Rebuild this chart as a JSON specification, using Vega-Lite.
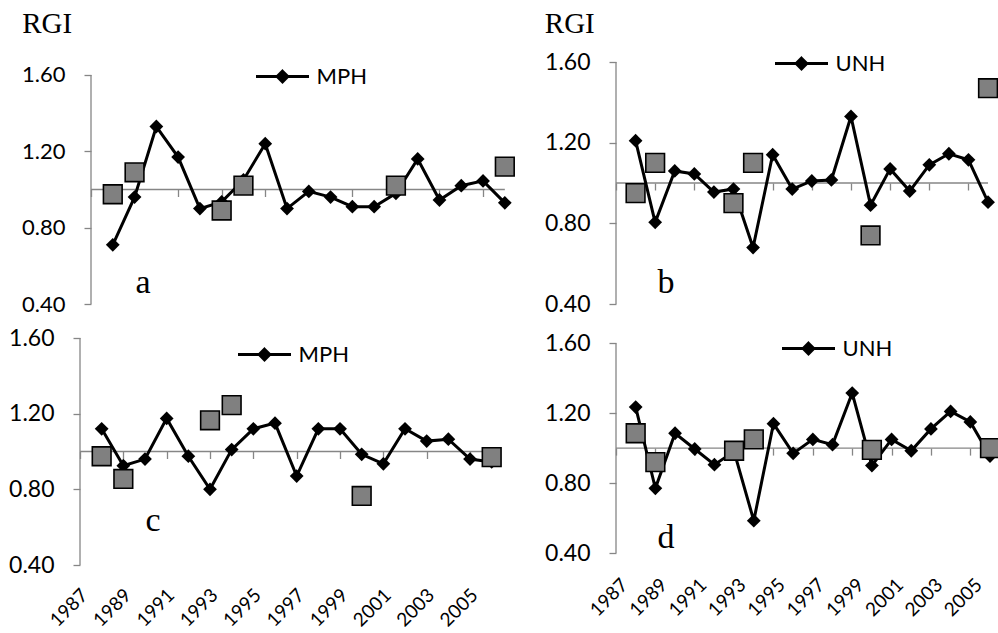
{
  "$schema": "https://vega.github.io/schema/vega-lite/v6.json",
  "background": "white",
  "padding": {"left": 8, "top": 9, "right": 0, "bottom": 0},
  "datasets": {
    "rgi": [
      {"panel": "a", "series": "MPH", "year": 1988, "rgi": 0.71},
      {"panel": "a", "series": "MPH", "year": 1989, "rgi": 0.96},
      {"panel": "a", "series": "MPH", "year": 1990, "rgi": 1.33},
      {"panel": "a", "series": "MPH", "year": 1991, "rgi": 1.17},
      {"panel": "a", "series": "MPH", "year": 1992, "rgi": 0.90},
      {"panel": "a", "series": "MPH", "year": 1993, "rgi": 0.935},
      {"panel": "a", "series": "MPH", "year": 1994, "rgi": 1.05},
      {"panel": "a", "series": "MPH", "year": 1995, "rgi": 1.24},
      {"panel": "a", "series": "MPH", "year": 1996, "rgi": 0.90},
      {"panel": "a", "series": "MPH", "year": 1997, "rgi": 0.99},
      {"panel": "a", "series": "MPH", "year": 1998, "rgi": 0.96},
      {"panel": "a", "series": "MPH", "year": 1999, "rgi": 0.91},
      {"panel": "a", "series": "MPH", "year": 2000, "rgi": 0.91},
      {"panel": "a", "series": "MPH", "year": 2001, "rgi": 0.98},
      {"panel": "a", "series": "MPH", "year": 2002, "rgi": 1.16},
      {"panel": "a", "series": "MPH", "year": 2003, "rgi": 0.945},
      {"panel": "a", "series": "MPH", "year": 2004, "rgi": 1.02},
      {"panel": "a", "series": "MPH", "year": 2005, "rgi": 1.045},
      {"panel": "a", "series": "MPH", "year": 2006, "rgi": 0.93},
      {"panel": "b", "series": "UNH", "year": 1988, "rgi": 1.21},
      {"panel": "b", "series": "UNH", "year": 1989, "rgi": 0.805},
      {"panel": "b", "series": "UNH", "year": 1990, "rgi": 1.06},
      {"panel": "b", "series": "UNH", "year": 1991, "rgi": 1.045},
      {"panel": "b", "series": "UNH", "year": 1992, "rgi": 0.955},
      {"panel": "b", "series": "UNH", "year": 1993, "rgi": 0.97},
      {"panel": "b", "series": "UNH", "year": 1994, "rgi": 0.68},
      {"panel": "b", "series": "UNH", "year": 1995, "rgi": 1.14},
      {"panel": "b", "series": "UNH", "year": 1996, "rgi": 0.97},
      {"panel": "b", "series": "UNH", "year": 1997, "rgi": 1.01},
      {"panel": "b", "series": "UNH", "year": 1998, "rgi": 1.015},
      {"panel": "b", "series": "UNH", "year": 1999, "rgi": 1.33},
      {"panel": "b", "series": "UNH", "year": 2000, "rgi": 0.89},
      {"panel": "b", "series": "UNH", "year": 2001, "rgi": 1.07},
      {"panel": "b", "series": "UNH", "year": 2002, "rgi": 0.96},
      {"panel": "b", "series": "UNH", "year": 2003, "rgi": 1.09},
      {"panel": "b", "series": "UNH", "year": 2004, "rgi": 1.145},
      {"panel": "b", "series": "UNH", "year": 2005, "rgi": 1.115},
      {"panel": "b", "series": "UNH", "year": 2006, "rgi": 0.905},
      {"panel": "c", "series": "MPH", "year": 1988, "rgi": 1.12},
      {"panel": "c", "series": "MPH", "year": 1989, "rgi": 0.925},
      {"panel": "c", "series": "MPH", "year": 1990, "rgi": 0.96},
      {"panel": "c", "series": "MPH", "year": 1991, "rgi": 1.175},
      {"panel": "c", "series": "MPH", "year": 1992, "rgi": 0.975},
      {"panel": "c", "series": "MPH", "year": 1993, "rgi": 0.80},
      {"panel": "c", "series": "MPH", "year": 1994, "rgi": 1.01},
      {"panel": "c", "series": "MPH", "year": 1995, "rgi": 1.12},
      {"panel": "c", "series": "MPH", "year": 1996, "rgi": 1.15},
      {"panel": "c", "series": "MPH", "year": 1997, "rgi": 0.87},
      {"panel": "c", "series": "MPH", "year": 1998, "rgi": 1.12},
      {"panel": "c", "series": "MPH", "year": 1999, "rgi": 1.12},
      {"panel": "c", "series": "MPH", "year": 2000, "rgi": 0.985},
      {"panel": "c", "series": "MPH", "year": 2001, "rgi": 0.935},
      {"panel": "c", "series": "MPH", "year": 2002, "rgi": 1.12},
      {"panel": "c", "series": "MPH", "year": 2003, "rgi": 1.055},
      {"panel": "c", "series": "MPH", "year": 2004, "rgi": 1.065},
      {"panel": "c", "series": "MPH", "year": 2005, "rgi": 0.96},
      {"panel": "c", "series": "MPH", "year": 2006, "rgi": 0.945},
      {"panel": "d", "series": "UNH", "year": 1988, "rgi": 1.235},
      {"panel": "d", "series": "UNH", "year": 1989, "rgi": 0.77},
      {"panel": "d", "series": "UNH", "year": 1990, "rgi": 1.085},
      {"panel": "d", "series": "UNH", "year": 1991, "rgi": 0.995},
      {"panel": "d", "series": "UNH", "year": 1992, "rgi": 0.905},
      {"panel": "d", "series": "UNH", "year": 1993, "rgi": 0.98},
      {"panel": "d", "series": "UNH", "year": 1994, "rgi": 0.585},
      {"panel": "d", "series": "UNH", "year": 1995, "rgi": 1.14},
      {"panel": "d", "series": "UNH", "year": 1996, "rgi": 0.97},
      {"panel": "d", "series": "UNH", "year": 1997, "rgi": 1.05},
      {"panel": "d", "series": "UNH", "year": 1998, "rgi": 1.02},
      {"panel": "d", "series": "UNH", "year": 1999, "rgi": 1.315},
      {"panel": "d", "series": "UNH", "year": 2000, "rgi": 0.90},
      {"panel": "d", "series": "UNH", "year": 2001, "rgi": 1.05},
      {"panel": "d", "series": "UNH", "year": 2002, "rgi": 0.985},
      {"panel": "d", "series": "UNH", "year": 2003, "rgi": 1.11},
      {"panel": "d", "series": "UNH", "year": 2004, "rgi": 1.21},
      {"panel": "d", "series": "UNH", "year": 2005, "rgi": 1.15},
      {"panel": "d", "series": "UNH", "year": 2006, "rgi": 0.955}
    ],
    "obs": [
      {"panel": "a", "year": 1988, "rgi": 0.975},
      {"panel": "a", "year": 1989, "rgi": 1.09},
      {"panel": "a", "year": 1993, "rgi": 0.89},
      {"panel": "a", "year": 1994, "rgi": 1.02},
      {"panel": "a", "year": 2001, "rgi": 1.02},
      {"panel": "a", "year": 2006, "rgi": 1.12},
      {"panel": "b", "year": 1988, "rgi": 0.95},
      {"panel": "b", "year": 1989, "rgi": 1.10},
      {"panel": "b", "year": 1993, "rgi": 0.90},
      {"panel": "b", "year": 1994, "rgi": 1.10},
      {"panel": "b", "year": 2000, "rgi": 0.74},
      {"panel": "b", "year": 2006, "rgi": 1.47},
      {"panel": "c", "year": 1988, "rgi": 0.975},
      {"panel": "c", "year": 1989, "rgi": 0.855},
      {"panel": "c", "year": 1993, "rgi": 1.165},
      {"panel": "c", "year": 1994, "rgi": 1.245},
      {"panel": "c", "year": 2000, "rgi": 0.765},
      {"panel": "c", "year": 2006, "rgi": 0.97},
      {"panel": "d", "year": 1988, "rgi": 1.085},
      {"panel": "d", "year": 1989, "rgi": 0.92},
      {"panel": "d", "year": 1993, "rgi": 0.985},
      {"panel": "d", "year": 1994, "rgi": 1.05},
      {"panel": "d", "year": 2000, "rgi": 0.99},
      {"panel": "d", "year": 2006, "rgi": 1.0}
    ]
  },
  "columns": 2,
  "spacing": {"row": 34, "column": 110},
  "bounds": "flush",
  "resolve": {
    "scale": {"x": "independent", "y": "independent", "color": "independent"},
    "legend": {"color": "independent"}
  },
  "concat": [
    {
      "width": 426, "height": 242,
      "layer": [
        {"data": {"values": [{}]}, "mark": {"type": "rule", "color": "#868686", "strokeWidth": 1.3},
         "encoding": {"x": {"datum": 1987, "type": "quantitative"}, "y": {"datum": 0.4, "type": "quantitative"}, "y2": {"datum": 1.6}}},
        {"data": {"values": [{}]}, "mark": {"type": "rule", "color": "#868686", "strokeWidth": 1.3},
         "encoding": {"x": {"datum": 1987, "type": "quantitative"}, "x2": {"datum": 2006}, "y": {"datum": 1, "type": "quantitative"}}},
        {"data": {"name": "rgi"}, "transform": [{"filter": "datum.panel === 'a'"}],
         "mark": {"type": "line", "strokeWidth": 3, "point": {"shape": "diamond", "filled": true, "size": 190, "opacity": 1}},
         "encoding": {
           "x": {"field": "year", "type": "quantitative", "scale": {"domain": [1986.495, 2006.054], "nice": false, "zero": false},
                 "axis": {"orient": "bottom", "offset": -114.5, "domain": false, "grid": false, "ticks": true, "tickColor": "#868686", "tickSize": 7, "tickWidth": 1.3, "labels": false,
                          "values": [1987, 1989, 1991, 1993, 1995, 1997, 1999, 2001, 2003, 2005],
                          "title": "a", "titleX": 62.5, "titleY": 102.5, "titleFont": "Liberation Serif", "titleFontSize": 34, "titleFontWeight": "normal", "titleColor": "#000000", "titleAlign": "center", "titleBaseline": "alphabetic", "titleAngle": 0}},
           "y": {"field": "rgi", "type": "quantitative", "scale": {"domain": [0.4, 1.668], "nice": false, "zero": false},
                 "axis": {"orient": "left", "offset": -11, "domain": false, "grid": false, "ticks": true, "tickColor": "#868686", "tickSize": 7, "tickWidth": 1.3,
                          "values": [0.4, 0.8, 1.2, 1.6], "format": ".2f", "labelFont": "Lato", "labelFontSize": 22, "labelColor": "#000000", "labelPadding": 19, "labelFlush": false, "labelOverlap": false,
                          "title": "RGI", "titleX": -69.3, "titleY": -29.7, "titleAngle": 0, "titleAlign": "left", "titleBaseline": "alphabetic", "titleFont": "Liberation Serif", "titleFontSize": 29, "titleFontWeight": "normal", "titleColor": "#000000"}},
           "color": {"field": "series", "type": "nominal", "scale": {"range": ["#000000"]},
                     "legend": {"orient": "none", "legendX": 174.5, "legendY": -13.5, "title": null, "padding": 0, "labelFont": "Lato", "labelFontSize": 22, "labelColor": "#000000", "labelOffset": 6,
                                "symbolType": "M-1,0L1,0M0,-0.2L0.2,0L0,0.2L-0.2,0Z", "symbolSize": 2809, "symbolStrokeWidth": 3, "symbolStrokeColor": "#000000", "symbolFillColor": "#000000",
                                "encode": {"symbols": {"update": {"fill": {"value": "#000000"}, "stroke": {"value": "#000000"}, "strokeWidth": {"value": 3}, "opacity": {"value": 1}}}}}}
         }},
        {"data": {"name": "obs"}, "transform": [{"filter": "datum.panel === 'a'"}],
         "mark": {"type": "point", "shape": "square", "filled": true, "fill": "#808080", "stroke": "#000000", "strokeWidth": 1.6, "size": 350, "opacity": 1},
         "encoding": {"x": {"field": "year", "type": "quantitative"}, "y": {"field": "rgi", "type": "quantitative"}}}
      ]
    },
    {
      "width": 374, "height": 242,
      "layer": [
        {"data": {"values": [{}]}, "mark": {"type": "rule", "color": "#868686", "strokeWidth": 1.3},
         "encoding": {"x": {"datum": 1987, "type": "quantitative"}, "y": {"datum": 0.4, "type": "quantitative"}, "y2": {"datum": 1.6}}},
        {"data": {"values": [{}]}, "mark": {"type": "rule", "color": "#868686", "strokeWidth": 1.3},
         "encoding": {"x": {"datum": 1987, "type": "quantitative"}, "x2": {"datum": 2006}, "y": {"datum": 1, "type": "quantitative"}}},
        {"data": {"name": "rgi"}, "transform": [{"filter": "datum.panel === 'b'"}],
         "mark": {"type": "line", "strokeWidth": 3, "point": {"shape": "diamond", "filled": true, "size": 190, "opacity": 1}},
         "encoding": {
           "x": {"field": "year", "type": "quantitative", "scale": {"domain": [1987, 2006.1], "nice": false, "zero": false},
                 "axis": {"orient": "bottom", "offset": -121, "domain": false, "grid": false, "ticks": true, "tickColor": "#868686", "tickSize": 7, "tickWidth": 1.3, "labels": false,
                          "values": [1987, 1989, 1991, 1993, 1995, 1997, 1999, 2001, 2003, 2005],
                          "title": "b", "titleX": 49.5, "titleY": 109, "titleFont": "Liberation Serif", "titleFontSize": 34, "titleFontWeight": "normal", "titleColor": "#000000", "titleAlign": "center", "titleBaseline": "alphabetic", "titleAngle": 0}},
           "y": {"field": "rgi", "type": "quantitative", "scale": {"domain": [0.4, 1.6], "nice": false, "zero": false},
                 "axis": {"orient": "left", "domain": false, "grid": false, "ticks": true, "tickColor": "#868686", "tickSize": 7, "tickWidth": 1.3,
                          "values": [0.4, 0.8, 1.2, 1.6], "format": ".2f", "labelFont": "Lato", "labelFontSize": 23, "labelColor": "#000000", "labelPadding": 19, "labelFlush": false, "labelOverlap": false,
                          "title": "RGI", "titleX": -71.7, "titleY": -29.7, "titleAngle": 0, "titleAlign": "left", "titleBaseline": "alphabetic", "titleFont": "Liberation Serif", "titleFontSize": 29, "titleFontWeight": "normal", "titleColor": "#000000"}},
           "color": {"field": "series", "type": "nominal", "scale": {"range": ["#000000"]},
                     "legend": {"orient": "none", "legendX": 157.5, "legendY": -26.5, "title": null, "padding": 0, "labelFont": "Lato", "labelFontSize": 22, "labelColor": "#000000", "labelOffset": 6,
                                "symbolType": "M-1,0L1,0M0,-0.2L0.2,0L0,0.2L-0.2,0Z", "symbolSize": 2809, "symbolStrokeWidth": 3, "symbolStrokeColor": "#000000", "symbolFillColor": "#000000",
                                "encode": {"symbols": {"update": {"fill": {"value": "#000000"}, "stroke": {"value": "#000000"}, "strokeWidth": {"value": 3}, "opacity": {"value": 1}}}}}}
         }},
        {"data": {"name": "obs"}, "transform": [{"filter": "datum.panel === 'b'"}],
         "mark": {"type": "point", "shape": "square", "filled": true, "fill": "#808080", "stroke": "#000000", "strokeWidth": 1.6, "size": 350, "opacity": 1},
         "encoding": {"x": {"field": "year", "type": "quantitative"}, "y": {"field": "rgi", "type": "quantitative"}}}
      ]
    },
    {
      "width": 426, "height": 227,
      "layer": [
        {"data": {"values": [{}]}, "mark": {"type": "rule", "color": "#868686", "strokeWidth": 1.3},
         "encoding": {"x": {"datum": 1987, "type": "quantitative"}, "y": {"datum": 0.4, "type": "quantitative"}, "y2": {"datum": 1.6}}},
        {"data": {"values": [{}]}, "mark": {"type": "rule", "color": "#868686", "strokeWidth": 1.3},
         "encoding": {"x": {"datum": 1987, "type": "quantitative"}, "x2": {"datum": 2006}, "y": {"datum": 1, "type": "quantitative"}}},
        {"data": {"name": "rgi"}, "transform": [{"filter": "datum.panel === 'c'"}],
         "mark": {"type": "line", "strokeWidth": 3, "point": {"shape": "diamond", "filled": true, "size": 190, "opacity": 1}},
         "encoding": {
           "x": {"field": "year", "type": "quantitative", "scale": {"domain": [1987, 2006.66], "nice": false, "zero": false},
                 "axis": {"orient": "bottom", "offset": -113.5, "domain": false, "grid": false, "ticks": true, "tickColor": "#868686", "tickSize": 7, "tickWidth": 1.3,
                          "values": [1987, 1989, 1991, 1993, 1995, 1997, 1999, 2001, 2003, 2005], "format": "d",
                          "labels": true, "labelAngle": -45, "labelAlign": "right", "labelBaseline": "middle", "labelPadding": 133.3, "labelOffset": 4.2, "labelFont": "Lato", "labelFontSize": 19, "labelColor": "#000000", "labelFlush": false, "labelOverlap": false, "labelBound": false,
                          "title": "c", "titleX": 72.5, "titleY": 78.5, "titleFont": "Liberation Serif", "titleFontSize": 34, "titleFontWeight": "normal", "titleColor": "#000000", "titleAlign": "center", "titleBaseline": "alphabetic", "titleAngle": 0}},
           "y": {"field": "rgi", "type": "quantitative", "scale": {"domain": [0.4, 1.6], "nice": false, "zero": false},
                 "axis": {"orient": "left", "domain": false, "grid": false, "ticks": true, "tickColor": "#868686", "tickSize": 7, "tickWidth": 1.3,
                          "values": [0.4, 0.8, 1.2, 1.6], "format": ".2f", "labelFont": "Lato", "labelFontSize": 23, "labelColor": "#000000", "labelPadding": 19, "labelFlush": false, "labelOverlap": false,
                          "title": null}},
           "color": {"field": "series", "type": "nominal", "scale": {"range": ["#000000"]},
                     "legend": {"orient": "none", "legendX": 156.5, "legendY": -11.5, "title": null, "padding": 0, "labelFont": "Lato", "labelFontSize": 22, "labelColor": "#000000", "labelOffset": 6,
                                "symbolType": "M-1,0L1,0M0,-0.2L0.2,0L0,0.2L-0.2,0Z", "symbolSize": 2809, "symbolStrokeWidth": 3, "symbolStrokeColor": "#000000", "symbolFillColor": "#000000",
                                "encode": {"symbols": {"update": {"fill": {"value": "#000000"}, "stroke": {"value": "#000000"}, "strokeWidth": {"value": 3}, "opacity": {"value": 1}}}}}}
         }},
        {"data": {"name": "obs"}, "transform": [{"filter": "datum.panel === 'c'"}],
         "mark": {"type": "point", "shape": "square", "filled": true, "fill": "#808080", "stroke": "#000000", "strokeWidth": 1.6, "size": 350, "opacity": 1},
         "encoding": {"x": {"field": "year", "type": "quantitative"}, "y": {"field": "rgi", "type": "quantitative"}}}
      ]
    },
    {
      "width": 374, "height": 215,
      "layer": [
        {"data": {"values": [{}]}, "mark": {"type": "rule", "color": "#868686", "strokeWidth": 1.3},
         "encoding": {"x": {"datum": 1987, "type": "quantitative"}, "y": {"datum": 0.4, "type": "quantitative"}, "y2": {"datum": 1.6}}},
        {"data": {"values": [{}]}, "mark": {"type": "rule", "color": "#868686", "strokeWidth": 1.3},
         "encoding": {"x": {"datum": 1987, "type": "quantitative"}, "x2": {"datum": 2006}, "y": {"datum": 1, "type": "quantitative"}}},
        {"data": {"name": "rgi"}, "transform": [{"filter": "datum.panel === 'd'"}],
         "mark": {"type": "line", "strokeWidth": 3, "point": {"shape": "diamond", "filled": true, "size": 190, "opacity": 1}},
         "encoding": {
           "x": {"field": "year", "type": "quantitative", "scale": {"domain": [1987, 2006.0], "nice": false, "zero": false},
                 "axis": {"orient": "bottom", "offset": -104.9, "domain": false, "grid": false, "ticks": true, "tickColor": "#868686", "tickSize": 7, "tickWidth": 1.3,
                          "values": [1987, 1989, 1991, 1993, 1995, 1997, 1999, 2001, 2003, 2005], "format": "d",
                          "labels": true, "labelAngle": -45, "labelAlign": "right", "labelBaseline": "middle", "labelPadding": 126.4, "labelOffset": 8.2, "labelFont": "Lato", "labelFontSize": 19, "labelColor": "#000000", "labelFlush": false, "labelOverlap": false, "labelBound": false,
                          "title": "d", "titleX": 49.5, "titleY": 98.9, "titleFont": "Liberation Serif", "titleFontSize": 34, "titleFontWeight": "normal", "titleColor": "#000000", "titleAlign": "center", "titleBaseline": "alphabetic", "titleAngle": 0}},
           "y": {"field": "rgi", "type": "quantitative", "scale": {"domain": [0.4, 1.63], "nice": false, "zero": false},
                 "axis": {"orient": "left", "domain": false, "grid": false, "ticks": true, "tickColor": "#868686", "tickSize": 7, "tickWidth": 1.3,
                          "values": [0.4, 0.8, 1.2, 1.6], "format": ".2f", "labelFont": "Lato", "labelFontSize": 23, "labelColor": "#000000", "labelPadding": 19, "labelFlush": false, "labelOverlap": false,
                          "title": null}},
           "color": {"field": "series", "type": "nominal", "scale": {"range": ["#000000"]},
                     "legend": {"orient": "none", "legendX": 164.5, "legendY": -17.5, "title": null, "padding": 0, "labelFont": "Lato", "labelFontSize": 22, "labelColor": "#000000", "labelOffset": 6,
                                "symbolType": "M-1,0L1,0M0,-0.2L0.2,0L0,0.2L-0.2,0Z", "symbolSize": 2809, "symbolStrokeWidth": 3, "symbolStrokeColor": "#000000", "symbolFillColor": "#000000",
                                "encode": {"symbols": {"update": {"fill": {"value": "#000000"}, "stroke": {"value": "#000000"}, "strokeWidth": {"value": 3}, "opacity": {"value": 1}}}}}}
         }},
        {"data": {"name": "obs"}, "transform": [{"filter": "datum.panel === 'd'"}],
         "mark": {"type": "point", "shape": "square", "filled": true, "fill": "#808080", "stroke": "#000000", "strokeWidth": 1.6, "size": 350, "opacity": 1},
         "encoding": {"x": {"field": "year", "type": "quantitative"}, "y": {"field": "rgi", "type": "quantitative"}}}
      ]
    }
  ],
  "config": {"view": {"stroke": null}, "axis": {"grid": false}}
}
